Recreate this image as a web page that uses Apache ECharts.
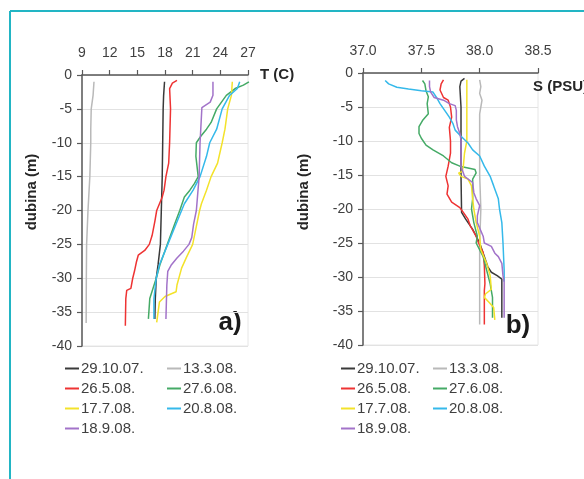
<!DOCTYPE html>
<html>
<head>
<meta charset="utf-8">
<script src="https://cdn.jsdelivr.net/npm/echarts@6/dist/echarts.min.js"></script>
<style>
html,body{margin:0;padding:0;background:#fff;}
#c{width:584px;height:479px;}
</style>
</head>
<body>
<div id="c"></div>
<script>
// ---- data ----
const seriesNames = ['29.10.07.', '13.3.08.', '26.5.08.', '27.6.08.', '17.7.08.', '20.8.08.', '18.9.08.'];
const seriesColors = ['#3a3a3a', '#b9b9b9', '#ee3333', '#45aa66', '#f3e22a', '#35b9ea', '#a273c9'];

const tTicks = [9, 12, 15, 18, 21, 24, 27];
const sTicks = [37.0, 37.5, 38.0, 38.5];
const depthTicks = [0, -5, -10, -15, -20, -25, -30, -35, -40];

// Temperature profiles (panel a)
const tDepth_291007 = [-1, -3, -5, -10, -15, -20, -25, -28, -30, -33, -36];
const tVal_291007   = [17.95, 17.85, 17.8, 17.75, 17.7, 17.6, 17.5, 17.25, 17.05, 16.95, 16.9];

const tDepth_130308 = [-1, -3, -5, -8, -10, -15, -20, -25, -30, -36.6];
const tVal_130308   = [10.3, 10.2, 10.0, 9.95, 9.95, 9.85, 9.65, 9.5, 9.47, 9.45];

const tDepth_260508 = [-0.8, -1.2, -2, -5, -10, -13, -15, -17, -18, -20, -21.6, -23.7, -25, -25.9, -26.6, -27.6, -28.9, -30, -31.5, -31.8, -33, -37];
const tVal_260508   = [19.3, 18.8, 18.5, 18.6, 18.5, 18.4, 18.1, 17.9, 17.7, 17.1, 16.9, 16.6, 16.3, 15.8, 15.1, 14.9, 14.7, 14.5, 14.3, 13.85, 13.75, 13.7];

const tDepth_270608 = [-1, -1.5, -2, -3, -5, -7, -8, -9, -10, -12, -15, -16, -17, -18, -20, -22, -25, -28, -30, -33, -36];
const tVal_270608   = [27.1, 26.5, 25.6, 24.65, 23.6, 23.0, 22.5, 21.9, 21.4, 21.35, 21.6, 21.2, 20.7, 20.1, 19.6, 19.05, 18.25, 17.45, 17.05, 16.35, 16.2];

const tDepth_170708 = [-1, -3, -5, -8, -10, -13, -15, -17, -19, -20, -23, -25, -27, -28.5, -31, -32, -32.7, -33.5, -36.5];
const tVal_170708   = [25.3, 25.2, 24.8, 24.5, 24.2, 23.7, 23.0, 22.5, 21.95, 21.75, 21.3, 21.0, 20.3, 19.8, 19.3, 19.2, 18.0, 17.4, 17.1];

const tDepth_200808 = [-1, -2, -3, -5, -8, -10, -12, -15, -17, -19, -20, -22, -25, -28, -30, -33, -36];
const tVal_200808   = [26.1, 25.85, 25.0, 24.2, 23.6, 22.85, 22.5, 21.8, 21.05, 20.1, 19.8, 19.2, 18.3, 17.4, 17.05, 16.8, 16.8];

const tDepth_180908 = [-1, -3, -4, -4.8, -5, -10, -15, -20, -22, -24, -25, -26, -27, -28, -29, -31, -36];
const tVal_180908   = [23.2, 23.2, 22.9, 22.0, 21.9, 21.8, 21.7, 21.4, 21.1, 20.9, 20.6, 20.0, 19.3, 18.7, 18.3, 18.2, 18.1];

// Salinity profiles (panel b)
const sDepth_291007 = [-0.8, -1.2, -2, -5, -10, -15, -20.5, -21.5, -23, -25, -27, -28.5, -29.3, -29.8, -30.3, -33, -36];
const sVal_291007   = [37.87, 37.84, 37.83, 37.84, 37.84, 37.84, 37.845, 37.88, 37.94, 38.0, 38.04, 38.07, 38.1, 38.15, 38.19, 38.19, 38.19];

const sDepth_130308 = [-1, -2, -3, -4, -5, -6, -8, -10, -15, -20, -25, -30, -37];
const sVal_130308   = [38.0, 38.01, 38.0, 38.02, 38.01, 38.0, 38.0, 38.0, 38.0, 38.01, 38.0, 38.0, 38.0];

const sDepth_260508 = [-1, -1.6, -2.5, -3.6, -4, -5, -6.5, -8, -10, -11.8, -13.7, -15.2, -16.6, -17.8, -19, -19.8, -20.5, -21.5, -22.5, -24, -25, -26.4, -28.3, -31, -32, -37];
const sVal_260508   = [37.69, 37.67, 37.66, 37.69, 37.73, 37.75, 37.76, 37.74, 37.75, 37.75, 37.73, 37.71, 37.73, 37.72, 37.76, 37.83, 37.86, 37.9, 37.92, 37.97, 37.99, 38.03, 38.04, 38.045, 38.04, 38.04];

const sDepth_270608 = [-1.1, -1.6, -2.6, -3.5, -4.5, -6, -7, -7.9, -8.9, -9.6, -10.6, -11.3, -12.2, -13.2, -13.7, -14.2, -14.7, -15.6, -18.5, -20, -22, -24, -25, -27, -29, -31, -33, -36];
const sVal_270608   = [37.51, 37.53, 37.54, 37.56, 37.55, 37.56, 37.51, 37.48, 37.48, 37.5, 37.54, 37.6, 37.69, 37.76, 37.83, 37.96, 37.97, 37.94, 37.94, 37.93, 37.95, 37.98, 37.97, 38.03, 38.06, 38.09, 38.11, 38.11];

const sDepth_170708 = [-1, -5, -9, -10, -11.8, -13.7, -14.5, -14.7, -15.2, -15.6, -16.6, -18.5, -20, -22, -24, -26, -28, -29.8, -31.8, -32.5, -33, -33.7, -34.5, -36.3];
const sVal_170708   = [37.89, 37.89, 37.89, 37.89, 37.87, 37.86, 37.85, 37.82, 37.84, 37.9, 37.93, 37.94, 37.95, 37.97, 38.0, 38.01, 38.06, 38.09, 38.1, 38.05, 38.04, 38.08, 38.12, 38.13];

const sDepth_200808 = [-1.1, -1.6, -2.1, -2.35, -2.6, -2.8, -3.6, -4.5, -5.5, -6.5, -7.4, -8.4, -9.3, -10.3, -11.3, -12.2, -13.7, -15.2, -16.6, -18.5, -20, -22, -25, -29, -30.7];
const sVal_200808   = [37.19, 37.22, 37.29, 37.39, 37.5, 37.6, 37.63, 37.66, 37.7, 37.74, 37.77, 37.79, 37.84, 37.9, 37.94, 38.0, 38.04, 38.09, 38.12, 38.16, 38.17, 38.19, 38.2, 38.21, 38.21];

const sDepth_180908 = [-1.1, -2, -2.8, -3.6, -4, -4.5, -4.8, -5.5, -6.9, -7.9, -8.9, -9.8, -11.8, -13.7, -15.2, -16.1, -17.6, -18.5, -19.5, -21, -22, -24, -25, -25.5, -26.5, -27, -28, -29.8, -30.7, -36];
const sVal_180908   = [37.57, 37.57, 37.58, 37.61, 37.69, 37.74, 37.79, 37.8, 37.8, 37.81, 37.83, 37.84, 37.84, 37.84, 37.87, 37.94, 37.95, 37.97, 38.0, 37.98, 37.98, 38.03, 38.04, 38.1, 38.13, 38.16, 38.19, 38.2, 38.21, 38.21];

const tProfiles = [
  [tVal_291007, tDepth_291007], [tVal_130308, tDepth_130308], [tVal_260508, tDepth_260508],
  [tVal_270608, tDepth_270608], [tVal_170708, tDepth_170708], [tVal_200808, tDepth_200808],
  [tVal_180908, tDepth_180908]
];
const sProfiles = [
  [sVal_291007, sDepth_291007], [sVal_130308, sDepth_130308], [sVal_260508, sDepth_260508],
  [sVal_270608, sDepth_270608], [sVal_170708, sDepth_170708], [sVal_200808, sDepth_200808],
  [sVal_180908, sDepth_180908]
];

// ---- chart ----
const chart = echarts.init(document.getElementById('c'), null, {renderer: 'canvas'});
const FONT = 'Liberation Sans, Arial, sans-serif';
const axisColor = '#595959';
const labelColor = '#404040';

function zip(vals, deps) { return vals.map((v, i) => [v, deps[i]]); }

const series = [];
tProfiles.forEach((p, i) => series.push({
  name: seriesNames[i], type: 'line', xAxisIndex: 0, yAxisIndex: 0,
  data: zip(p[0], p[1]), showSymbol: false, symbol: 'none', color: seriesColors[i],
  lineStyle: {width: 1.5, color: seriesColors[i]}, animation: false
}));
sProfiles.forEach((p, i) => series.push({
  name: seriesNames[i], type: 'line', xAxisIndex: 1, yAxisIndex: 1,
  data: zip(p[0], p[1]), showSymbol: false, symbol: 'none', color: seriesColors[i],
  lineStyle: {width: 1.5, color: seriesColors[i]}, animation: false
}));

function xAx(idx, ticks, name, nameGap, nameStyle, fmt) {
  const interval = ticks[1] - ticks[0];
  return {
    type: 'value', gridIndex: idx, position: 'top',
    min: ticks[0], max: ticks[ticks.length - 1], interval: interval,
    axisLine: {show: true, onZero: false, lineStyle: {color: axisColor, width: 1.5}},
    axisTick: {show: true, length: 5, lineStyle: {color: axisColor, width: 1.2}},
    axisLabel: {fontSize: 14, color: labelColor, fontFamily: FONT, margin: 15, formatter: fmt},
    splitLine: {show: false},
    name: name, nameLocation: 'end', nameGap: nameGap, nameTextStyle: nameStyle
  };
}
function yAx(idx) {
  return {
    type: 'value', gridIndex: idx,
    min: depthTicks[depthTicks.length - 1], max: depthTicks[0], interval: depthTicks[0] - depthTicks[1],
    axisLine: {show: true, onZero: false, lineStyle: {color: axisColor, width: 1.5}},
    axisTick: {show: true, length: 5, lineStyle: {color: axisColor, width: 1.2}},
    axisLabel: {fontSize: 14, color: labelColor, fontFamily: FONT, margin: 10},
    splitLine: {show: true, lineStyle: {color: '#e2e2e2', width: 1}}
  };
}

function legendCol(left, top, names) {
  return {
    left: left, top: top, orient: 'vertical', data: names,
    icon: 'rect', itemWidth: 14, itemHeight: 2, itemGap: 5,
    textStyle: {fontSize: 15, color: labelColor, fontFamily: FONT, lineHeight: 15, padding: [0, 0, 0, -3]},
    selectedMode: false
  };
}
const col1 = [seriesNames[0], seriesNames[2], seriesNames[4], seriesNames[6]];
const col2 = [seriesNames[1], seriesNames[3], seriesNames[5]];

const option = {
  backgroundColor: '#ffffff',
  animation: false,
  grid: [
    {left: 82, top: 75, width: 166, height: 271, show: true, borderColor: '#e6e6e6', borderWidth: 1, backgroundColor: 'transparent', outerBoundsMode: 'none', containLabel: false},
    {left: 363, top: 73, width: 175, height: 272, show: true, borderColor: '#e6e6e6', borderWidth: 1, backgroundColor: 'transparent', outerBoundsMode: 'none', containLabel: false}
  ],
  xAxis: [
    xAx(0, tTicks, 'T (C)', 12, {fontWeight: 'bold', fontSize: 15, color: '#262626', fontFamily: FONT}, null),
    xAx(1, sTicks, 'S (PSU)', -5, {fontWeight: 'bold', fontSize: 15, color: '#262626', fontFamily: FONT, verticalAlign: 'top', padding: [6, 0, 0, 0]}, v => v.toFixed(1))
  ],
  yAxis: [yAx(0), yAx(1)],
  legend: [
    legendCol(60, 356, col1), legendCol(162, 356, col2),
    legendCol(336, 356, col1), legendCol(428, 356, col2)
  ],
  graphic: [
    {type: 'line', shape: {x1: 10, y1: 11, x2: 584, y2: 11}, style: {stroke: '#22b5c4', lineWidth: 2}},
    {type: 'line', shape: {x1: 10, y1: 11, x2: 10, y2: 479}, style: {stroke: '#22b5c4', lineWidth: 2}},
    {type: 'text', x: 32, y: 192, rotation: Math.PI / 2,
      style: {text: 'dubina (m)', fontSize: 15, fontWeight: 'bold', fill: '#262626', fontFamily: FONT, align: 'center', verticalAlign: 'middle'}},
    {type: 'text', x: 304, y: 192, rotation: Math.PI / 2,
      style: {text: 'dubina (m)', fontSize: 15, fontWeight: 'bold', fill: '#262626', fontFamily: FONT, align: 'center', verticalAlign: 'middle'}},
    {type: 'text', x: 230, y: 323,
      style: {text: 'a)', fontSize: 26, fontWeight: 'bold', fill: '#1a1a1a', fontFamily: FONT, align: 'center', verticalAlign: 'middle'}},
    {type: 'text', x: 518, y: 326,
      style: {text: 'b)', fontSize: 26, fontWeight: 'bold', fill: '#1a1a1a', fontFamily: FONT, align: 'center', verticalAlign: 'middle'}}
  ],
  series: series
};
chart.setOption(option);
</script>
</body>
</html>
